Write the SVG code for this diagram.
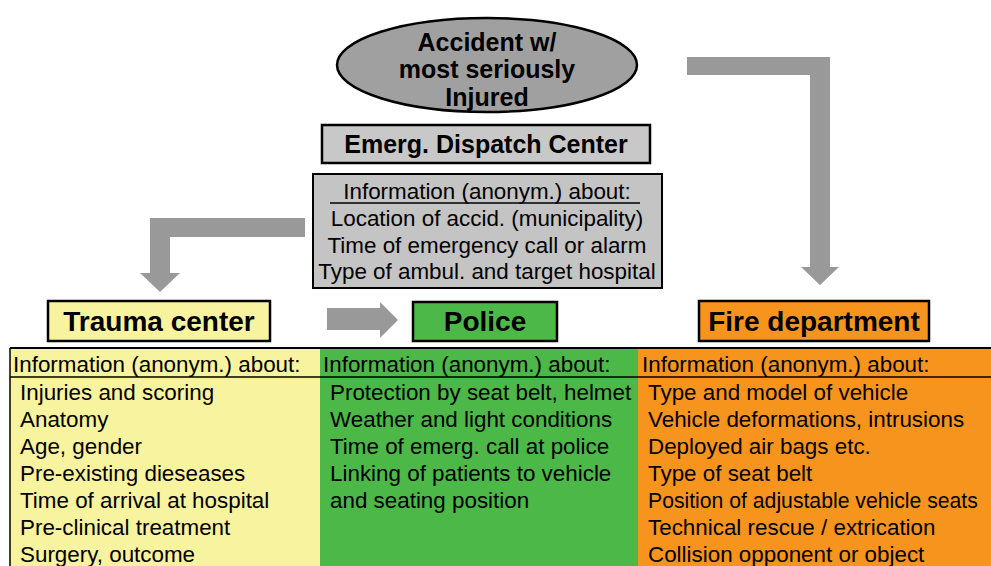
<svg xmlns="http://www.w3.org/2000/svg" width="991" height="566" viewBox="0 0 991 566">
<style>
text{font-family:"Liberation Sans",Arial,sans-serif;fill:#000}
.b{font-weight:bold}
.t{font-size:22.4px}
.lbl{font-size:28px;font-weight:bold;text-anchor:middle}
.box{stroke:#000;stroke-width:2.5}
.arr{fill:#999999}
</style>
<rect width="991" height="566" fill="#fff"/>
<g id="connectors">
<polygon class="arr" points="305,218 150,218 150,273 140,273 160,292 180,273 170,273 170,237 305,237"/>
<polygon class="arr" points="327,308 380,308 380,302 398,320 380,338 380,330 327,330"/>
<polygon class="arr" points="687,57 830,57 830,267 839,267 820,285 801,267 810,267 810,75 687,75"/>
</g>
<g id="accident">
<ellipse cx="487" cy="65" rx="150" ry="47" fill="#a0a0a0" stroke="#000" stroke-width="2.5"/>
<text class="b" x="487" y="51" font-size="25" text-anchor="middle">Accident w/</text>
<text class="b" x="487" y="78" font-size="25" text-anchor="middle">most seriously</text>
<text class="b" x="487" y="106" font-size="25" text-anchor="middle">Injured</text>
</g>
<g id="dispatch">
<rect class="box" x="322" y="125" width="328" height="38" fill="#c8c8c8" stroke-width="3"/>
<text class="b" x="486" y="153" font-size="25" text-anchor="middle">Emerg. Dispatch Center</text>
</g>
<g id="dispatch-info">
<rect x="313" y="174" width="349" height="114" fill="#c4c4c4" stroke="#000" stroke-width="2"/>
<line x1="330" y1="203" x2="640" y2="203" stroke="#000" stroke-width="1.5"/>
<g class="t" text-anchor="middle">
<text x="487" y="199">Information (anonym.) about:</text>
<text x="487" y="226">Location of accid. (municipality)</text>
<text x="487" y="253">Time of emergency call or alarm</text>
<text x="487" y="279">Type of ambul. and target hospital</text>
</g>
</g>
<g id="trauma">
<rect class="box" x="48" y="301" width="222" height="40" fill="#f8f39e"/>
<text class="lbl" x="159" y="331">Trauma center</text>
</g>
<g id="police">
<rect class="box" x="413" y="302" width="144" height="39" fill="#4cb848"/>
<text class="lbl" x="485" y="331">Police</text>
</g>
<g id="fire">
<rect class="box" x="699" y="301" width="230" height="40" fill="#f7941d"/>
<text class="lbl" x="814" y="331">Fire department</text>
</g>
<g id="table">
<rect x="10" y="348" width="310" height="218" fill="#f8f39e"/>
<rect x="320" y="348" width="318" height="218" fill="#4cb848"/>
<rect x="638" y="348" width="353" height="218" fill="#f7941d"/>
<line x1="10" y1="348" x2="991" y2="348" stroke="#000" stroke-width="2"/>
<line x1="10" y1="377" x2="991" y2="377" stroke="#000" stroke-width="1.5"/>
<line x1="10" y1="348" x2="10" y2="566" stroke="#000" stroke-width="1.5"/>
<g class="t">
<text x="13" y="372">Information (anonym.) about:</text>
<text x="20" y="400">Injuries and scoring</text>
<text x="20" y="427">Anatomy</text>
<text x="20" y="454">Age, gender</text>
<text x="20" y="481">Pre-existing dieseases</text>
<text x="20" y="508">Time of arrival at hospital</text>
<text x="20" y="535">Pre-clinical treatment</text>
<text x="20" y="562">Surgery, outcome</text>
<text x="323" y="372">Information (anonym.) about:</text>
<text x="330" y="400">Protection by seat belt, helmet</text>
<text x="330" y="427">Weather and light conditions</text>
<text x="330" y="454">Time of emerg. call at police</text>
<text x="330" y="481">Linking of patients to vehicle</text>
<text x="330" y="508">and seating position</text>
<text x="642" y="372">Information (anonym.) about:</text>
<text x="648" y="400">Type and model of vehicle</text>
<text x="648" y="427">Vehicle deformations, intrusions</text>
<text x="648" y="454">Deployed air bags etc.</text>
<text x="648" y="481">Type of seat belt</text>
<text x="648" y="508" style="font-size:21.2px">Position of adjustable vehicle seats</text>
<text x="648" y="535">Technical rescue / extrication</text>
<text x="648" y="562">Collision opponent or object</text>
</g>
</g>
</svg>
